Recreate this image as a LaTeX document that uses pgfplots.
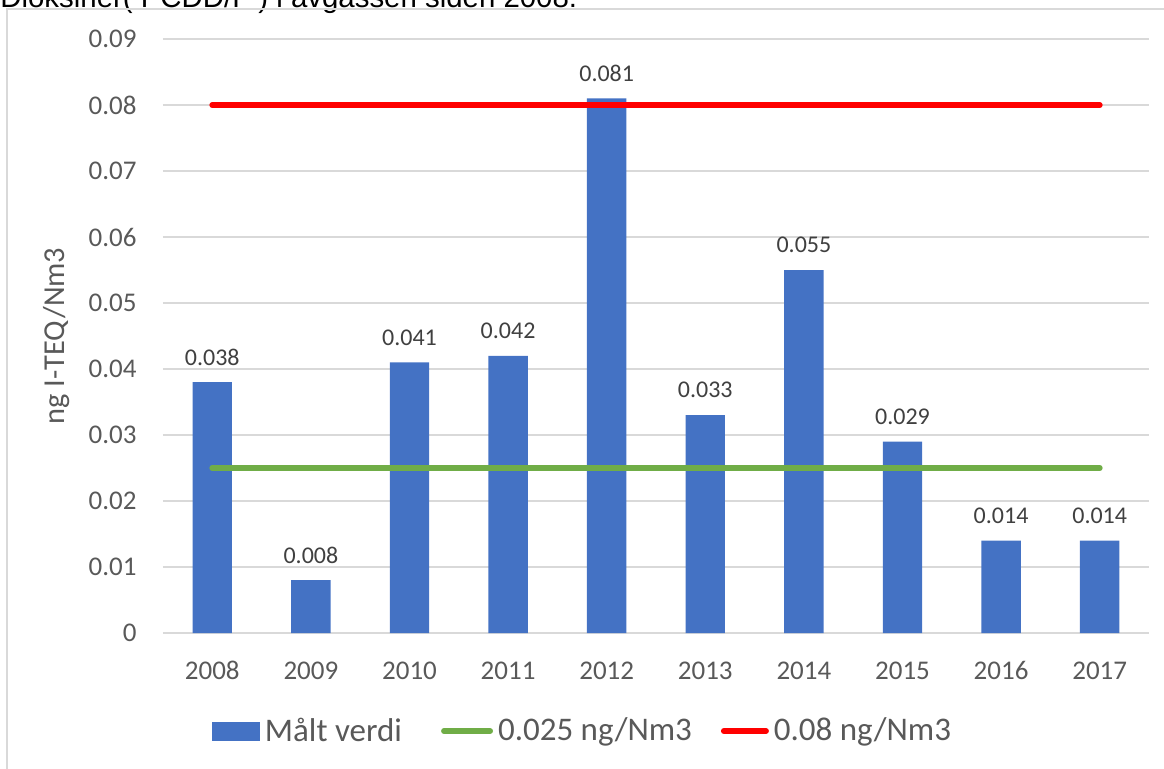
\documentclass[border=0pt]{standalone}
\usepackage{pgfplots}
\pgfplotsset{compat=1.18}
\usepackage{fontspec}
\setmainfont{Carlito}
\newfontfamily\titlefont{Liberation Sans}

\definecolor{barblue}{HTML}{4472C4}
\definecolor{limgreen}{HTML}{70AD47}
\definecolor{limred}{HTML}{FF0000}
\definecolor{gridgray}{HTML}{D9D9D9}
\definecolor{txtgray}{HTML}{595959}
\definecolor{lblgray}{HTML}{404040}

\begin{document}
\begin{tikzpicture}[x=0.5pt,y=0.5pt]
\useasboundingbox (0,0) rectangle (1164,768);
% caption line of the report, cut by the page edge
\node[anchor=base west, inner sep=0pt, font=\titlefont\fontsize{14.7}{17}\selectfont]
  at (0,761) {Dioksiner( PCDD/F ) i avgassen siden 2008.};
% chart frame
\draw[gridgray, line width=0.8pt] (7,759) rectangle (1190,-30);

\begin{axis}[
  at={(81.5pt,67.5pt)}, anchor=south west,
  scale only axis, width=493pt, height=297pt,
  xmin=-0.5, xmax=9.5, ymin=0, ymax=0.09,
  axis line style={draw=none},
  major tick length=0pt,
  ymajorgrids, grid style={gridgray, line width=0.7pt},
  xtick={0,...,9},
  xticklabels={2008,2009,2010,2011,2012,2013,2014,2015,2016,2017},
  ytick={0,0.01,...,0.09},
  scaled y ticks=false,
  /pgf/number format/assume math mode=true,
  yticklabel={\pgfmathprintnumber[fixed,precision=2]{\tick}},
  tick label style={font=\fontsize{13.5}{16}\selectfont, text=txtgray},
  xticklabel style={anchor=base, inner sep=0pt, yshift=-23pt},
  yticklabel style={anchor=east, inner sep=0pt, xshift=-13pt},
  ylabel={ng I-TEQ/Nm3},
  ylabel style={at={(axis description cs:-0.1075,0.5)}, anchor=center,
    inner sep=0pt, font=\fontsize{15.2}{18}\selectfont, text=txtgray},
  legend columns=3,
  legend style={at={(axis description cs:0.4270,-0.165)}, anchor=center,
    draw=none, fill=none, inner sep=0pt,
    font=\fontsize{16.5}{19}\selectfont, text=txtgray,
    nodes={inner sep=2.5pt},
    /tikz/column 2/.style={column sep=17pt},
    /tikz/column 4/.style={column sep=12pt}},
  legend cell align=left,
]
\addplot[ybar, bar width=19.7pt, fill=barblue, draw=none,
  nodes near coords={\pgfmathprintnumber[fixed,fixed zerofill,precision=3]{\pgfplotspointmeta}},
  nodes near coords style={anchor=center, yshift=12.5pt, inner sep=0pt,
    font=\fontsize{12}{14}\selectfont, text=lblgray},
  legend image code/.code={\fill[barblue] (0pt,-4.75pt) rectangle (24pt,4.75pt);}]
  coordinates {(0,0.038) (1,0.008) (2,0.041) (3,0.042) (4,0.081)
               (5,0.033) (6,0.055) (7,0.029) (8,0.014) (9,0.014)};
\addlegendentry{Målt verdi}
\addplot[limgreen, line width=3pt, line cap=round, mark=none,
  legend image code/.code={\draw[limgreen, line width=3pt, line cap=round] (1.5pt,0pt) -- (24.5pt,0pt);}]
  coordinates {(0,0.025) (9,0.025)};
\addlegendentry{0.025 ng/Nm3}
\addplot[limred, line width=3pt, line cap=round, mark=none,
  legend image code/.code={\draw[limred, line width=3pt, line cap=round] (1.5pt,0pt) -- (22.5pt,0pt);}]
  coordinates {(0,0.08) (9,0.08)};
\addlegendentry{0.08 ng/Nm3}
\end{axis}
\end{tikzpicture}
\end{document}
